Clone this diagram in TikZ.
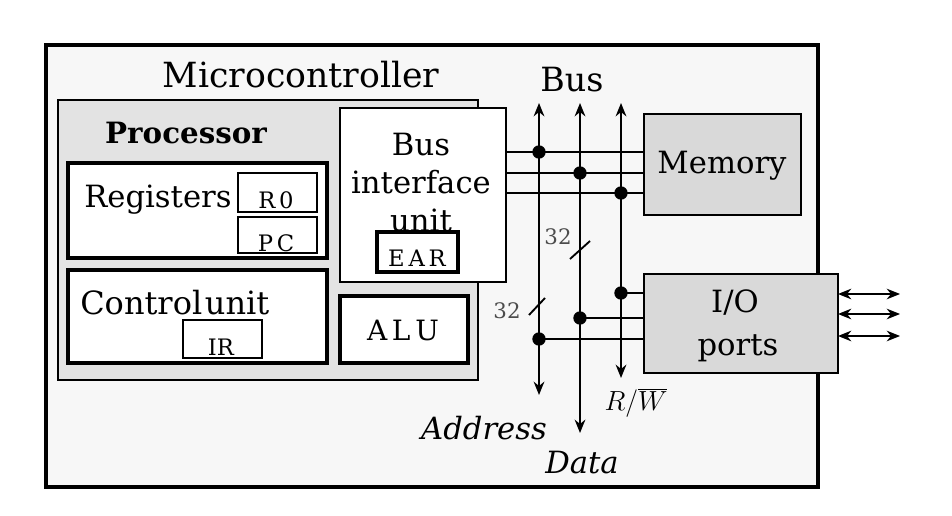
\documentclass[tikz,border=0pt]{standalone}
\usepackage{fontspec}
\setmainfont{DejaVu Serif}
\usetikzlibrary{arrows.meta}
\begin{document}
\begin{tikzpicture}[x=0.75pt,y=-0.75pt,
  box/.style={draw, line width=2pt, inner sep=0pt, outer sep=0pt, anchor=north west},
  wbox/.style={box, fill=white},
  big/.style={inner sep=0pt, font=\fontsize{23}{27}\selectfont},
  mid/.style={inner sep=0pt, font=\fontsize{23}{27}\selectfont},
  small/.style={inner sep=0pt, font=\fontsize{17}{20}\selectfont},
  ital/.style={inner sep=0pt, font=\fontsize{23}{27}\selectfont\itshape},
  num/.style={inner sep=0pt, text=black!70, font=\fontsize{16}{19}\selectfont},
  busline/.style={line width=1.6pt, {Stealth[length=10pt,width=8pt]}-{Stealth[length=10pt,width=8pt]}},
  wire/.style={line width=1.6pt},
  dot/.style={circle, fill=black, inner sep=0pt, minimum size=10pt},
  tick/.style={line width=1.4pt}
]
\fill[white] (0,0) rectangle (952,516);
\useasboundingbox (0,0) rectangle (952,516);

% outer boxes
\node[box, line width=2.4pt, fill=black!3, minimum width=579pt, minimum height=331.5pt] (mc) at (46,45) {};
\node[box, line width=1.8pt, fill=black!11, minimum width=315pt, minimum height=210pt] (proc) at (58,100) {};
\node[big, font=\fontsize{26}{30}\selectfont] (mctext) at (301,75) {Microcontroller};
\node[big, font=\fontsize{22}{26}\selectfont\bfseries] (proctext) at (186,133) {Processor};

% registers
\node[wbox, line width=2.4pt, minimum width=194.25pt, minimum height=71.25pt] (regs) at (68,163) {};
\node[big, anchor=west] (regtext) at (84,200) {Registers};
\node[wbox, minimum width=59.25pt, minimum height=29.25pt] (r0) at (238,173) {};
\node[small] (r0text) at (276,200) {R\,0};
\node[wbox, minimum width=59.25pt, minimum height=27pt] (pc) at (238,217) {};
\node[small] (pctext) at (276,243) {P\,C};

% control unit
\node[wbox, line width=2.4pt, minimum width=194.25pt, minimum height=69.75pt] (cu) at (68,270) {};
\node[big, anchor=west, font=\fontsize{24}{28}\selectfont] (cutext) at (80,303) {Control\hspace{2pt}unit};
\node[wbox, minimum width=59.25pt, minimum height=28.5pt] (ir) at (183,320) {};
\node[small] (irtext) at (221,347) {IR};

% bus interface unit
\node[wbox, minimum width=124.5pt, minimum height=130.5pt] (biu) at (340,108) {};
\node[big, align=center, font=\fontsize{23}{28.5}\selectfont] (biutext) at (421,183) {Bus\\interface\\unit};
\node[wbox, line width=2.4pt, minimum width=60.75pt, minimum height=30pt] (ear) at (377,232) {};
\node[small] (eartext) at (417,258) {E\,A\,R};

% ALU
\node[wbox, line width=3pt, minimum width=96pt, minimum height=50.25pt] (alu) at (340,296) {};
\node[mid, font=\fontsize{21}{25}\selectfont] (alutext) at (403,330) {A\,L\,U};

% memory and I/O
\node[box, fill=black!15, minimum width=117.75pt, minimum height=75.75pt] (mem) at (644,114) {};
\node[mid] (memtext) at (722,166) {Memory};
\node[box, fill=black!15, minimum width=145.5pt, minimum height=74.25pt] (io) at (644,274) {};
\node[mid] (iotext) at (735,303) {I/O};
\node[mid] (porttext) at (738,348) {ports};

% bus line end points
\coordinate (atop) at (539,103);
\coordinate (abot) at (539,395);
\coordinate (dtop) at (580,103);
\coordinate (dbot) at (580,433);
\coordinate (wtop) at (621,103);
\coordinate (wbot) at (621,378);
\draw[busline] (abot) -- (atop);
\draw[busline] (dbot) -- (dtop);
\draw[busline] (wbot) -- (wtop);

% junction dots
\node[dot] (j1) at (539,152) {};
\node[dot] (j2) at (580,173) {};
\node[dot] (j3) at (621,193) {};
\node[dot] (j4) at (621,293) {};
\node[dot] (j5) at (580,318) {};
\node[dot] (j6) at (539,339) {};

% wires BIU -> memory
\draw[wire] (biu.east |- j1) -- (mem.west |- j1);
\draw[wire] (biu.east |- j2) -- (mem.west |- j2);
\draw[wire] (biu.east |- j3) -- (mem.west |- j3);
% wires bus -> I/O
\draw[wire] (j4.center) -- (io.west |- j4);
\draw[wire] (j5.center) -- (io.west |- j5);
\draw[wire] (j6.center) -- (io.west |- j6);

% external I/O arrows
\coordinate (o1) at (900,294);
\coordinate (o2) at (900,314);
\coordinate (o3) at (900,336);
\draw[busline, line width=1.3pt] (io.east |- o1) -- (o1);
\draw[busline, line width=1.3pt] (io.east |- o2) -- (o2);
\draw[busline, line width=1.3pt] (io.east |- o3) -- (o3);

% bus width ticks
\coordinate (t1a) at (570,259);
\coordinate (t1b) at (590,241);
\coordinate (t2a) at (529,315);
\coordinate (t2b) at (545,298);
\draw[tick] (t1a) -- (t1b);
\draw[tick] (t2a) -- (t2b);
\node[num] (n32a) at (558,237) {32};
\node[num] (n32b) at (507,311) {32};

% labels
\node[big, font=\fontsize{25}{29}\selectfont] (bustext) at (572,80) {Bus};
\node[ital] (addrtext) at (484,428) {Address};
\node[ital] (datatext) at (582,463) {Data};
\node[ital, font=\fontsize{22}{26}\selectfont\itshape] (rwtext) at (636,403) {$R/\overline{W}$};
\end{tikzpicture}
\end{document}
